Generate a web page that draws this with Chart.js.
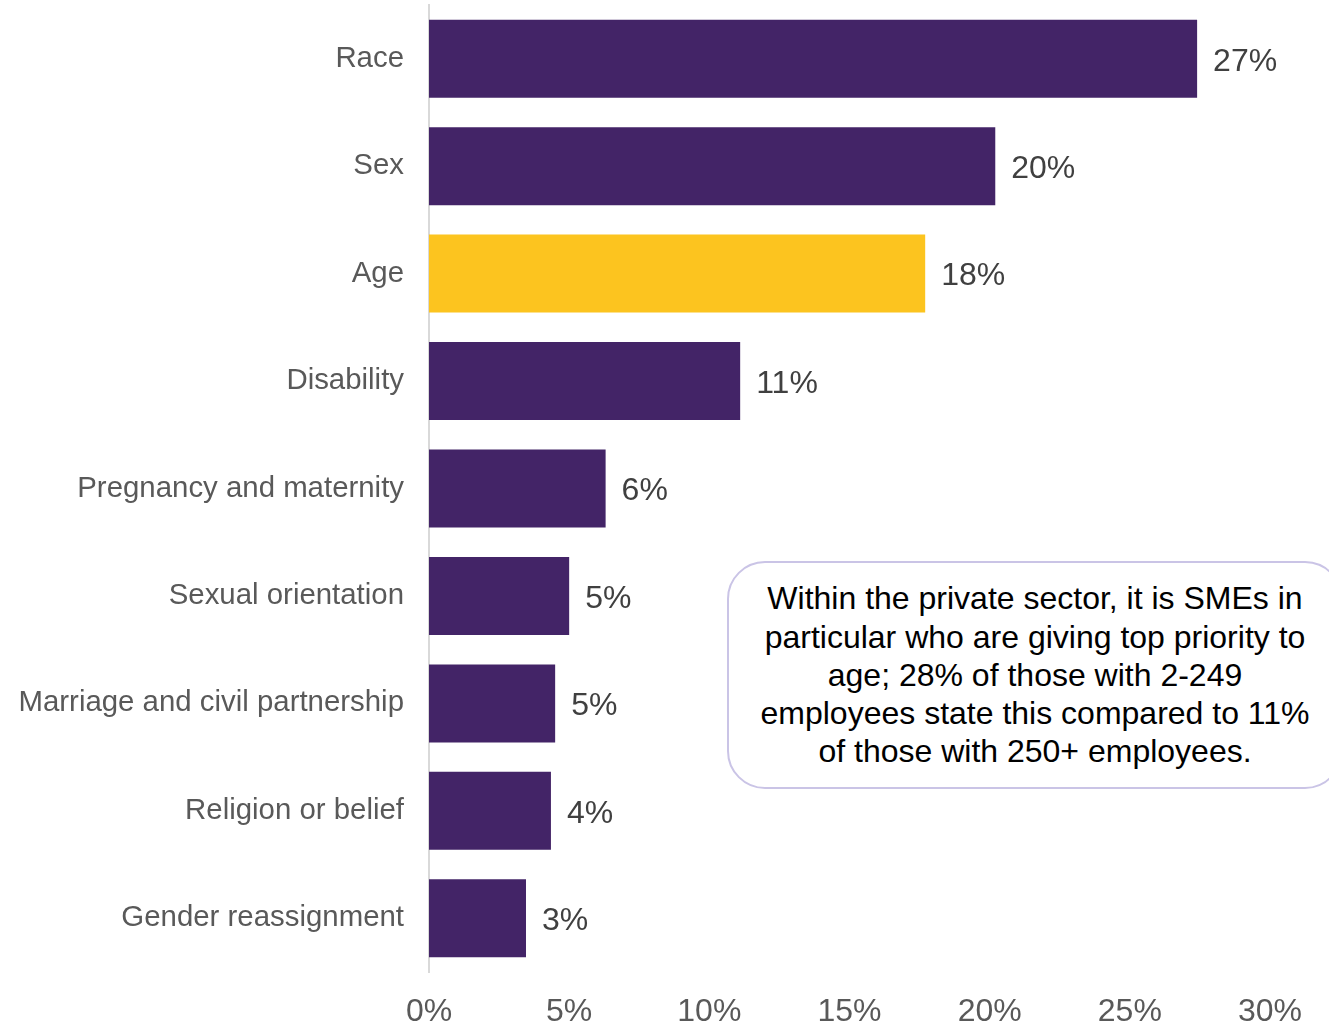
<!DOCTYPE html>
<html>
<head>
<meta charset="utf-8">
<script src="https://cdn.jsdelivr.net/npm/chart.js@4.4.0/dist/chart.umd.min.js"></script>
<style>
  html, body { margin: 0; padding: 0; background: #fff; overflow: hidden; }
  #wrap { position: relative; width: 1329px; height: 1024px; }
  #note {
    position: absolute; left: 727px; top: 561px; width: 616px; height: 228px;
    box-sizing: border-box; border: 2px solid #cac4e6; border-radius: 38px; background: #fff;
    display: flex; align-items: center; justify-content: center; text-align: center;
    font-family: "Liberation Sans", Arial, sans-serif; font-size: 32px; line-height: 38.3px; color: #000;
  }
</style>
</head>
<body>
<div id="wrap">
  <canvas id="canvasBars"></canvas>
  <div id="note">Within the private sector, it is SMEs in<br>particular who are giving top priority to<br>age; 28% of those with 2-249<br>employees state this compared to 11%<br>of those with 250+ employees.</div>
</div>
<script>
// share of organisations, %
var categories = ['Race', 'Sex', 'Age', 'Disability', 'Pregnancy and maternity', 'Sexual orientation',
  'Marriage and civil partnership', 'Religion or belief', 'Gender reassignment'];
var shares = [27.4, 20.2, 17.7, 11.1, 6.3, 5.0, 4.5, 4.35, 3.46];
var highlight = 'Age';
var xTicks = [0, 5, 10, 15, 20, 25, 30];

var font = '"Liberation Sans", Arial, sans-serif';

//print the value at the end of each bar
var barValues = {
  id: 'barValues',
  afterDatasetsDraw: function (chart) {
    var ctx = chart.ctx;
    var meta = chart.getDatasetMeta(0);
    ctx.save();
    ctx.font = '32px ' + font;
    ctx.fillStyle = '#404040';
    ctx.textAlign = 'left';
    ctx.textBaseline = 'middle';
    meta.data.forEach(function (bar, i) {
      ctx.fillText(Math.round(shares[i]) + '%', bar.x + 16, bar.y + 3);
    });
    ctx.restore();
  }
};

var config = {
  type: 'bar',
  data: {
    labels: categories,
    datasets: [{
      data: shares,
      backgroundColor: categories.map((c) => c == highlight ? '#fcc41f' : '#432467'),
      categoryPercentage: 1,
      barPercentage: 0.726
    }]
  },
  options: {
    indexAxis: 'y',
    responsive: true,
    maintainAspectRatio: false,
    animation: false,
    layout: { padding: { top: 5, right: 59, bottom: 0, left: 0 } },
    plugins: {
      legend: { display: false },
      tooltip: { enabled: false }
    },
    scales: {
      x: {
        min: 0,
        max: 30,
        afterBuildTicks: function (scale) {
          scale.ticks = xTicks.map((v) => ({ value: v }));
        },
        afterFit: function (scale) { scale.height = 52; },
        grid: { display: false, drawTicks: false },
        border: { display: false },
        ticks: {
          padding: 21,
          color: '#595959',
          font: { family: font, size: 32 },
          callback: (v) => v + '%'
        }
      },
      y: {
        afterFit: function (scale) {
          scale.width = 429;
          //no extra room above/below the first and last label
          scale.paddingTop = 0;
          scale.paddingBottom = 0;
        },
        grid: { display: false, drawTicks: false },
        border: { display: true, color: '#d9d9d9', width: 2 },
        ticks: {
          padding: 25,
          color: '#595959',
          font: { family: font, size: 29.4 }
        }
      }
    }
  },
  plugins: [barValues]
};

var chart = new Chart(document.getElementById('canvasBars'), config);
</script>
</body>
</html>
